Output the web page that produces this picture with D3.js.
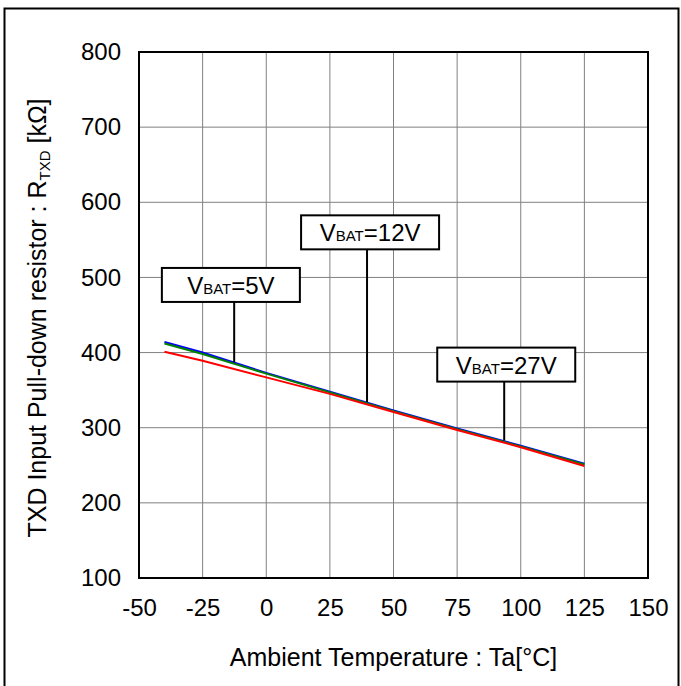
<!DOCTYPE html>
<html><head><meta charset="utf-8">
<script src="https://cdn.jsdelivr.net/npm/d3@7"></script>
<style>body{margin:0;background:#fff}svg{display:block}text{font-family:"Liberation Sans",Arial,sans-serif;fill:#000}</style>
</head><body><svg id="c" width="681" height="686"></svg>
<script>
const temps = [-40, -25, 0, 25, 50, 75, 100, 125];
const v5  = [414, 400, 373, 348, 323, 299, 276, 252];
const v12 = [412, 398, 372, 347, 322, 298, 275, 251];
const v27 = [401, 389, 367, 345, 321, 297, 274, 249];
const seriesNames = ["5V", "12V", "27V"];
const seriesColors = ["#0000ff", "#008000", "#ff0000"];
const xTicks = [-50, -25, 0, 25, 50, 75, 100, 125, 150];
const yTicks = [100, 200, 300, 400, 500, 600, 700, 800];
// callouts: label, anchor on curve (temperature, value), box centre (temperature, value)
const calloutLabels = ["=5V", "=12V", "=27V"];
const calloutAnchorT = [-12.6, 39.6, 93.5];
const calloutAnchorV = [387, 334, 283];
const calloutBoxT = [-13.9, 40.8, 94.3];
const calloutBoxV = [490, 560, 384];

const svg = d3.select("#c");
const L = 139, R = 648, T = 52, B = 578;
const x = d3.scaleLinear().domain([-50, 150]).range([L, R]);
const y = d3.scaleLinear().domain([100, 800]).range([B, T]);
const FONT = "Liberation Sans, Arial, sans-serif";

// outer frame
svg.append("rect").attr("x", 4.5).attr("y", 8.5).attr("width", 674).attr("height", 680)
  .attr("fill", "none").attr("stroke", "#000").attr("stroke-width", 2);

// grid
const g = svg.append("g");
g.selectAll(".vg").data(xTicks).join("line")
  .attr("x1", d => x(d)).attr("x2", d => x(d)).attr("y1", T).attr("y2", B)
  .attr("stroke", "#808080").attr("stroke-width", 1);
g.selectAll(".hg").data(yTicks).join("line")
  .attr("x1", L).attr("x2", R).attr("y1", d => y(d)).attr("y2", d => y(d))
  .attr("stroke", "#808080").attr("stroke-width", 1);

// axes (labels only)
const xAxis = d3.axisBottom(x).tickValues(xTicks).tickSize(0).tickPadding(21).tickFormat(d => String(d));
const xa = svg.append("g").attr("transform", `translate(0,${B})`).call(xAxis);
xa.select(".domain").remove();
xa.selectAll("text").style("font-size", "24px").style("font-family", FONT).attr("fill", "#000");
const yAxis = d3.axisLeft(y).tickValues(yTicks).tickSize(0).tickPadding(18).tickFormat(d => String(d));
const ya = svg.append("g").attr("transform", `translate(${L},0)`).call(yAxis);
ya.select(".domain").remove();
ya.selectAll("text").style("font-size", "24px").style("font-family", FONT).attr("fill", "#000");

// lines
const series = [v5, v12, v27];
const line = d3.line().x((d, i) => x(temps[i])).y(d => y(d));
series.forEach((s, k) => {
  svg.append("path").datum(s).attr("d", line).attr("fill", "none")
    .attr("stroke", seriesColors[k]).attr("stroke-width", 2);
});

// plot border
svg.append("rect").attr("x", L).attr("y", T).attr("width", R - L).attr("height", B - T)
  .attr("fill", "none").attr("stroke", "#000").attr("stroke-width", 2);

// callouts
const boxW = 138, boxH = 34;
calloutLabels.forEach((lab, i) => {
  const cx = x(calloutBoxT[i]), cy = y(calloutBoxV[i]);
  const ax = x(calloutAnchorT[i]), ay = y(calloutAnchorV[i]);
  svg.append("line").attr("x1", ax).attr("x2", ax).attr("y1", cy + boxH / 2).attr("y2", ay)
    .attr("stroke", "#000").attr("stroke-width", 2);
  svg.append("rect").attr("x", cx - boxW / 2).attr("y", cy - boxH / 2).attr("width", boxW).attr("height", boxH)
    .attr("fill", "#fff").attr("stroke", "#000").attr("stroke-width", 2);
  const t = svg.append("text").attr("x", cx).attr("y", cy + 9).attr("text-anchor", "middle").style("font-size", "24px");
  t.append("tspan").text("V");
  t.append("tspan").text("BAT").style("font-size", "15px");
  t.append("tspan").text(lab);
});

// axis titles
svg.append("text").attr("x", (L + R) / 2).attr("y", 666).attr("text-anchor", "middle")
  .style("font-size", "25px").text("Ambient Temperature : Ta[°C]");
const yt = svg.append("text").attr("transform", `translate(46,318) rotate(-90)`)
  .attr("text-anchor", "middle").style("font-size", "25px");
yt.append("tspan").text("TXD Input Pull-down resistor : R");
yt.append("tspan").text("TXD").style("font-size", "15px").attr("dy", 4);
yt.append("tspan").text(" [kΩ]").attr("dy", -4);
</script></body></html>
